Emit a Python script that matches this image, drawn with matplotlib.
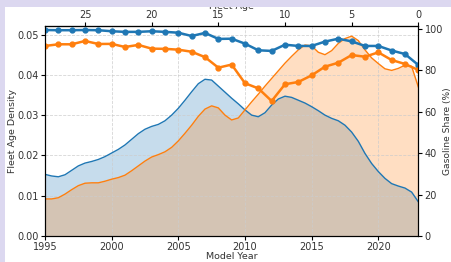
import numpy as np
import matplotlib
matplotlib.use("Agg")
import matplotlib.pyplot as plt
from matplotlib.patches import Rectangle

# model years for the yearly share lines
years = np.arange(1995, 2024)

# gasoline share (%) per model year, two fleets
share_blue = [99.5, 99.4, 99.4, 99.5, 99.4, 98.9, 98.6, 98.6, 98.9, 98.6,
              98.2, 96.6, 98.1, 95.2, 95.3, 92.9, 89.7, 89.4, 92.4, 91.8,
              91.8, 93.9, 95.3, 94.0, 91.8, 91.8, 89.6, 87.9, 82.6]
share_orange = [91.8, 92.6, 92.6, 94.2, 92.75, 92.8, 91.3, 92.3, 90.5, 90.4,
                90.0, 89.0, 86.4, 81.3, 82.8, 73.8, 71.3, 65.2, 73.3, 74.4,
                77.6, 81.8, 83.7, 87.4, 86.6, 88.7, 85.0, 83.1, 80.2]

# fleet age density, sampled every half year
dens_years = np.arange(1995, 2023.01, 0.5)
dens_blue = [0.0153, 0.0149, 0.0147, 0.0152, 0.0163, 0.0174, 0.0181, 0.0185,
             0.0190, 0.0197, 0.0206, 0.0215, 0.0226, 0.0240, 0.0254, 0.0265,
             0.0272, 0.0277, 0.0286, 0.0300, 0.0317, 0.0337, 0.0358, 0.0378,
             0.0389, 0.0387, 0.0372, 0.0357, 0.0342, 0.0328, 0.0313, 0.0300,
             0.0296, 0.0306, 0.0325, 0.0340, 0.0347, 0.0344, 0.0337, 0.0330,
             0.0321, 0.0311, 0.0300, 0.0292, 0.0286, 0.0275, 0.0258, 0.0235,
             0.0205, 0.0180, 0.0160, 0.0143, 0.0130, 0.0124, 0.0119, 0.0109,
             0.0085]
dens_orange = [0.0092, 0.0092, 0.0095, 0.0104, 0.0115, 0.0125, 0.0131, 0.0132,
               0.0132, 0.0136, 0.0141, 0.0145, 0.0151, 0.0162, 0.0174, 0.0186,
               0.0196, 0.0202, 0.0209, 0.0220, 0.0236, 0.0255, 0.0275, 0.0297,
               0.0315, 0.0323, 0.0318, 0.0300, 0.0288, 0.0293, 0.0313, 0.0333,
               0.0352, 0.0372, 0.0391, 0.0410, 0.0429, 0.0446, 0.0462, 0.0474,
               0.0472, 0.0456, 0.0450, 0.0460, 0.0478, 0.0490, 0.0496, 0.0485,
               0.0462, 0.0442, 0.0428, 0.0415, 0.0411, 0.0416, 0.0424, 0.0421,
               0.0370]

BLUE = "#1f77b4"
ORANGE = "#ff7f0e"
TXT = "#333333"

fig = plt.figure(figsize=(4.51, 2.62), dpi=100)
ax = fig.add_axes([0.0998, 0.0992, 0.8277, 0.7997])

# density areas on the left axis
ax.fill_between(dens_years, 0, dens_blue, color=BLUE, alpha=0.25, lw=0)
ax.plot(dens_years, dens_blue, color=BLUE, lw=1.0)
ax.fill_between(dens_years, 0, dens_orange, color=ORANGE, alpha=0.25, lw=0)
ax.plot(dens_years, dens_orange, color=ORANGE, lw=1.0)

ax.set_xlim(1995, 2023)
ax.set_ylim(0, 0.052)
ax.set_xticks([1995, 2000, 2005, 2010, 2015, 2020])
ax.set_yticks([0, 0.01, 0.02, 0.03, 0.04, 0.05])
ax.set_yticklabels(["0.00", "0.01", "0.02", "0.03", "0.04", "0.05"])
ax.grid(True, ls="--", lw=0.6, color="#cccccc", alpha=0.8)
ax.set_xlabel("Model Year", fontsize=6.8, color=TXT, labelpad=0)
ax.set_ylabel("Fleet Age Density", fontsize=6.8, color=TXT, labelpad=0)
ax.tick_params(labelsize=7, labelcolor=TXT, length=3, pad=1.5)

# gasoline share lines on the right axis
ax2 = ax.twinx()
ax2.plot(years, share_blue, color=BLUE, lw=1.8, marker="o", ms=3.5)
ax2.plot(years, share_orange, color=ORANGE, lw=1.8, marker="o", ms=3.5)
ax2.set_ylim(0, 101.2)
ax2.set_yticks([0, 20, 40, 60, 80, 100])
ax2.set_ylabel("Gasoline Share (%)", fontsize=6.6, color=TXT, labelpad=0)
ax2.tick_params(labelsize=7, labelcolor=TXT, length=3, pad=1.5)

# fleet age axis on top
top = ax.secondary_xaxis("top", functions=(lambda y: 2023 - y, lambda a: 2023 - a))
top.set_xticks([0, 5, 10, 15, 20, 25])
top.set_xlabel("Fleet Age", fontsize=6.8, color=TXT, labelpad=1)
top.tick_params(labelsize=7, labelcolor=TXT, length=3, pad=1.5)

# lavender screenshot border
lav = "#dcd8f0"
fig.add_artist(Rectangle((0, 1 - 7 / 262), 1, 7 / 262, transform=fig.transFigure,
                         color=lav, zorder=100, lw=0))
fig.add_artist(Rectangle((0, 0), 5 / 451, 1, transform=fig.transFigure,
                         color=lav, zorder=100, lw=0))

fig.savefig("out.png", dpi=100)
